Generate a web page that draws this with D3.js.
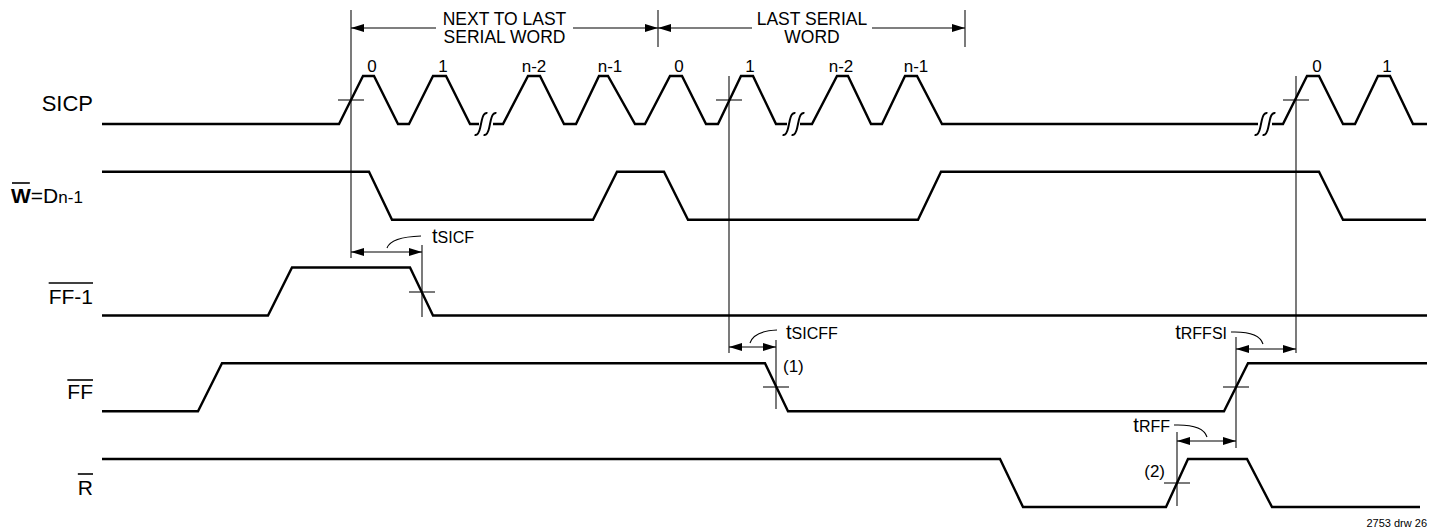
<!DOCTYPE html>
<html><head><meta charset="utf-8">
<script src="https://cdn.jsdelivr.net/npm/d3@7"></script>
<style>
body{margin:0;background:#fff}
svg{display:block}
text{font-family:"Liberation Sans",Arial,Helvetica,sans-serif;fill:#000}
</style>
</head><body>
<svg id="c" width="1436" height="532"></svg>
<script>
// ---------- DATA (time in diagram units, level 0 = low, 1 = high) ----------
const signals = ["SICP", "W", "FF-1", "FF", "R"];

const sicpSegments = [
  [[102,0],[339,0],[363,1],[374,1],[398,0],[409,0],[433,1],[446,1],[470,0],[479,0]],
  [[493,0],[503,0],[528,1],[540,1],[564,0],[576,0],[599,1],[608,1],[635,0],[645,0],[670,1],[682,1],[706,0],[718,0],[741,1],[753,1],[776,0],[787,0]],
  [[800,0],[812,0],[837,1],[848,1],[871,0],[882,0],[905,1],[917,1],[942,0],[1258,0]],
  [[1272,0],[1283,0],[1307,1],[1319,1],[1343,0],[1355,0],[1378,1],[1390,1],[1413,0],[1427,0]]
];
const sicpBreaks = [[481, 490], [789, 798], [1261, 1269]];

const waveW   = [[102,1],[369,1],[392,0],[593,0],[617,1],[664,1],[688,0],[918,0],[941,1],[1319,1],[1343,0],[1426,0]];
const waveFF1 = [[102,0],[268,0],[292,1],[410,1],[433,0],[1427,0]];
const waveFF  = [[102,0],[198,0],[222,1],[765,1],[788,0],[1224,0],[1248,1],[1427,1]];
const waveR   = [[102,1],[1000,1],[1023,0],[1166,0],[1188,1],[1247,1],[1272,0],[1420,0]];

const pulseLabels = ["0","1","n-2","n-1","0","1","n-2","n-1","0","1"];
const pulseLabelTimes = [372, 443, 534, 610, 679, 750, 841, 916, 1317, 1387];

// word spans on top
const wordSpans = [
  {t0: 351, t1: 658, lines: ["NEXT TO LAST", "SERIAL WORD"], gap: [436, 573]},
  {t0: 658, t1: 965, lines: ["LAST SERIAL", "WORD"], gap: [752, 872]}
];

// timing references
const refLines = [
  {t: 351, y1: 10, y2: 258}, {t: 658, y1: 10, y2: 47}, {t: 965, y1: 10, y2: 47},
  {t: 729, y1: 76, y2: 353}, {t: 1296, y1: 76, y2: 353},
  {t: 422, y1: 245, y2: 317}, {t: 776, y1: 340, y2: 409},
  {t: 1236, y1: 337, y2: 448}, {t: 1177, y1: 432, y2: 506}
];
const crossMarks = [
  {t: 351, y: 100}, {t: 729, y: 100}, {t: 1296, y: 100},
  {t: 422, y: 292}, {t: 776, y: 387}, {t: 1236, y: 387}, {t: 1177, y: 483}
];
const timingArrows = [
  {name: "SICF",  t0: 351,  t1: 422,  y: 252},
  {name: "SICFF", t0: 729,  t1: 776,  y: 347},
  {name: "RFFSI", t0: 1236, t1: 1296, y: 349},
  {name: "RFF",   t0: 1177, t1: 1236, y: 441}
];
const timingLabels = [
  {sub: "SICF",  t: 432,  y: 243, anchor: "start", leader: [[387,248],[391,237],[421,236]]},
  {sub: "SICFF", t: 786,  y: 339, anchor: "start", leader: [[750,343],[754,331],[777,330]]},
  {sub: "RFFSI", t: 1227, y: 339, anchor: "end",   leader: [[1231,332],[1259,331],[1263,344]]},
  {sub: "RFF",   t: 1170, y: 432, anchor: "end",   leader: [[1174,425],[1203,424],[1207,437]]}
];
const notes = [
  {text: "(1)", t: 783, y: 372, anchor: "start"},
  {text: "(2)", t: 1165, y: 477, anchor: "end"}
];

// ---------- DRAW ----------
const svg = d3.select("#c");
const x = d3.scaleLinear().domain([102, 1427]).range([102, 1427]);
const yBase = d3.scalePoint().domain(signals).range([124, 507]);
const lvl = d3.scaleLinear().domain([0, 1]).range([0, -48]);
const lineFor = sig => d3.line().x(d => x(d[0])).y(d => yBase(sig) + lvl(d[1]));

const defs = svg.append("defs");
defs.append("marker").attr("id", "ah")
  .attr("viewBox", "0 0 13 8").attr("markerUnits", "userSpaceOnUse")
  .attr("markerWidth", 13).attr("markerHeight", 8)
  .attr("refX", 13).attr("refY", 4).attr("orient", "auto-start-reverse")
  .append("path").attr("d", "M0,0 L13,4 L0,8 Z").attr("fill", "#000");

const g = svg.append("g");

// reference lines
g.selectAll(".ref").data(refLines).join("line")
  .attr("x1", d => x(d.t)).attr("x2", d => x(d.t))
  .attr("y1", d => d.y1).attr("y2", d => d.y2)
  .attr("stroke", "#222").attr("stroke-width", 1.2);

// crosshairs
g.selectAll(".cross").data(crossMarks).join("line")
  .attr("x1", d => x(d.t) - 13).attr("x2", d => x(d.t) + 13)
  .attr("y1", d => d.y).attr("y2", d => d.y)
  .attr("stroke", "#222").attr("stroke-width", 1.2);

// waveforms
const wave = (data, sig) => g.append("path").datum(data)
  .attr("d", lineFor(sig)).attr("fill", "none")
  .attr("stroke", "#000").attr("stroke-width", 2.4).attr("stroke-linejoin", "miter");
sicpSegments.forEach(s => wave(s, "SICP"));
wave(waveW, "W"); wave(waveFF1, "FF-1"); wave(waveFF, "FF"); wave(waveR, "R");

// break marks on SICP
const yS = yBase("SICP");
sicpBreaks.forEach(b => b.forEach(cx => {
  const X = x(cx);
  g.append("path")
    .attr("d", `M${X+4},${yS-12} Q${X},${yS-12} ${X},${yS-4} L${X},${yS+4} Q${X},${yS+12} ${X-4},${yS+12}`)
    .attr("transform", `rotate(12,${X},${yS})`)
    .attr("fill", "none").attr("stroke", "#000").attr("stroke-width", 2);
}));

// pulse labels
g.selectAll(".pl").data(pulseLabels).join("text")
  .attr("x", (d, i) => x(pulseLabelTimes[i])).attr("y", 72)
  .attr("text-anchor", "middle").attr("font-size", 17).text(d => d);

// word spans
wordSpans.forEach(w => {
  g.append("line").attr("x1", x(w.gap[0])).attr("x2", x(w.t0)).attr("y1", 28).attr("y2", 28)
    .attr("stroke", "#000").attr("stroke-width", 1.2).attr("marker-end", "url(#ah)");
  g.append("line").attr("x1", x(w.gap[1])).attr("x2", x(w.t1)).attr("y1", 28).attr("y2", 28)
    .attr("stroke", "#000").attr("stroke-width", 1.2).attr("marker-end", "url(#ah)");
  const cx = (x(w.gap[0]) + x(w.gap[1])) / 2;
  w.lines.forEach((s, i) => g.append("text").attr("x", cx).attr("y", 25 + i * 18)
    .attr("text-anchor", "middle").attr("font-size", 17.5).text(s));
});

// timing arrows
g.selectAll(".ta").data(timingArrows).join("line")
  .attr("x1", d => x(d.t0)).attr("x2", d => x(d.t1)).attr("y1", d => d.y).attr("y2", d => d.y)
  .attr("stroke", "#000").attr("stroke-width", 1.2)
  .attr("marker-start", "url(#ah)").attr("marker-end", "url(#ah)");

// timing labels + leaders
timingLabels.forEach(d => {
  const t = g.append("text").attr("x", x(d.t)).attr("y", d.y).attr("text-anchor", d.anchor);
  t.append("tspan").attr("font-size", 20).text("t");
  t.append("tspan").attr("font-size", 16).text(d.sub);
  const p = d.leader;
  g.append("path").attr("d", `M${x(p[0][0])},${p[0][1]} Q${x(p[1][0])},${p[1][1]} ${x(p[2][0])},${p[2][1]}`)
    .attr("fill", "none").attr("stroke", "#000").attr("stroke-width", 1.1);
});

g.selectAll(".note").data(notes).join("text")
  .attr("x", d => x(d.t)).attr("y", d => d.y).attr("text-anchor", d => d.anchor)
  .attr("font-size", 17).text(d => d.text);

// signal labels
const over = (el, y) => {
  const b = el.node().getBBox();
  g.append("line").attr("x1", b.x).attr("x2", b.x + b.width).attr("y1", y).attr("y2", y)
    .attr("stroke", "#000").attr("stroke-width", 1.6);
};
g.append("text").attr("x", 93).attr("y", 111).attr("text-anchor", "end").attr("font-size", 22).text("SICP");

const wt = g.append("text").attr("x", 11).attr("y", 203);
const wW = wt.append("tspan").attr("font-size", 21).attr("font-weight", "bold").text("W");
wt.append("tspan").attr("font-size", 21).text("=D");
wt.append("tspan").attr("font-size", 17).text("n-1");
{
  const n = wW.node();
  const s = n.getStartPositionOfChar(0).x, e = n.getEndPositionOfChar(0).x;
  g.append("line").attr("x1", s + 1).attr("x2", e - 1).attr("y1", 183).attr("y2", 183)
    .attr("stroke", "#000").attr("stroke-width", 1.6);
}
const ff1 = g.append("text").attr("x", 93).attr("y", 304).attr("text-anchor", "end").attr("font-size", 21).text("FF-1");
over(ff1, 283);
const ff = g.append("text").attr("x", 93).attr("y", 399).attr("text-anchor", "end").attr("font-size", 21).text("FF");
over(ff, 380);
const rr = g.append("text").attr("x", 93).attr("y", 495).attr("text-anchor", "end").attr("font-size", 21).text("R");
over(rr, 474);

g.append("text").attr("x", 1427).attr("y", 527).attr("text-anchor", "end").attr("font-size", 11).text("2753 drw 26");
</script>
</body></html>
